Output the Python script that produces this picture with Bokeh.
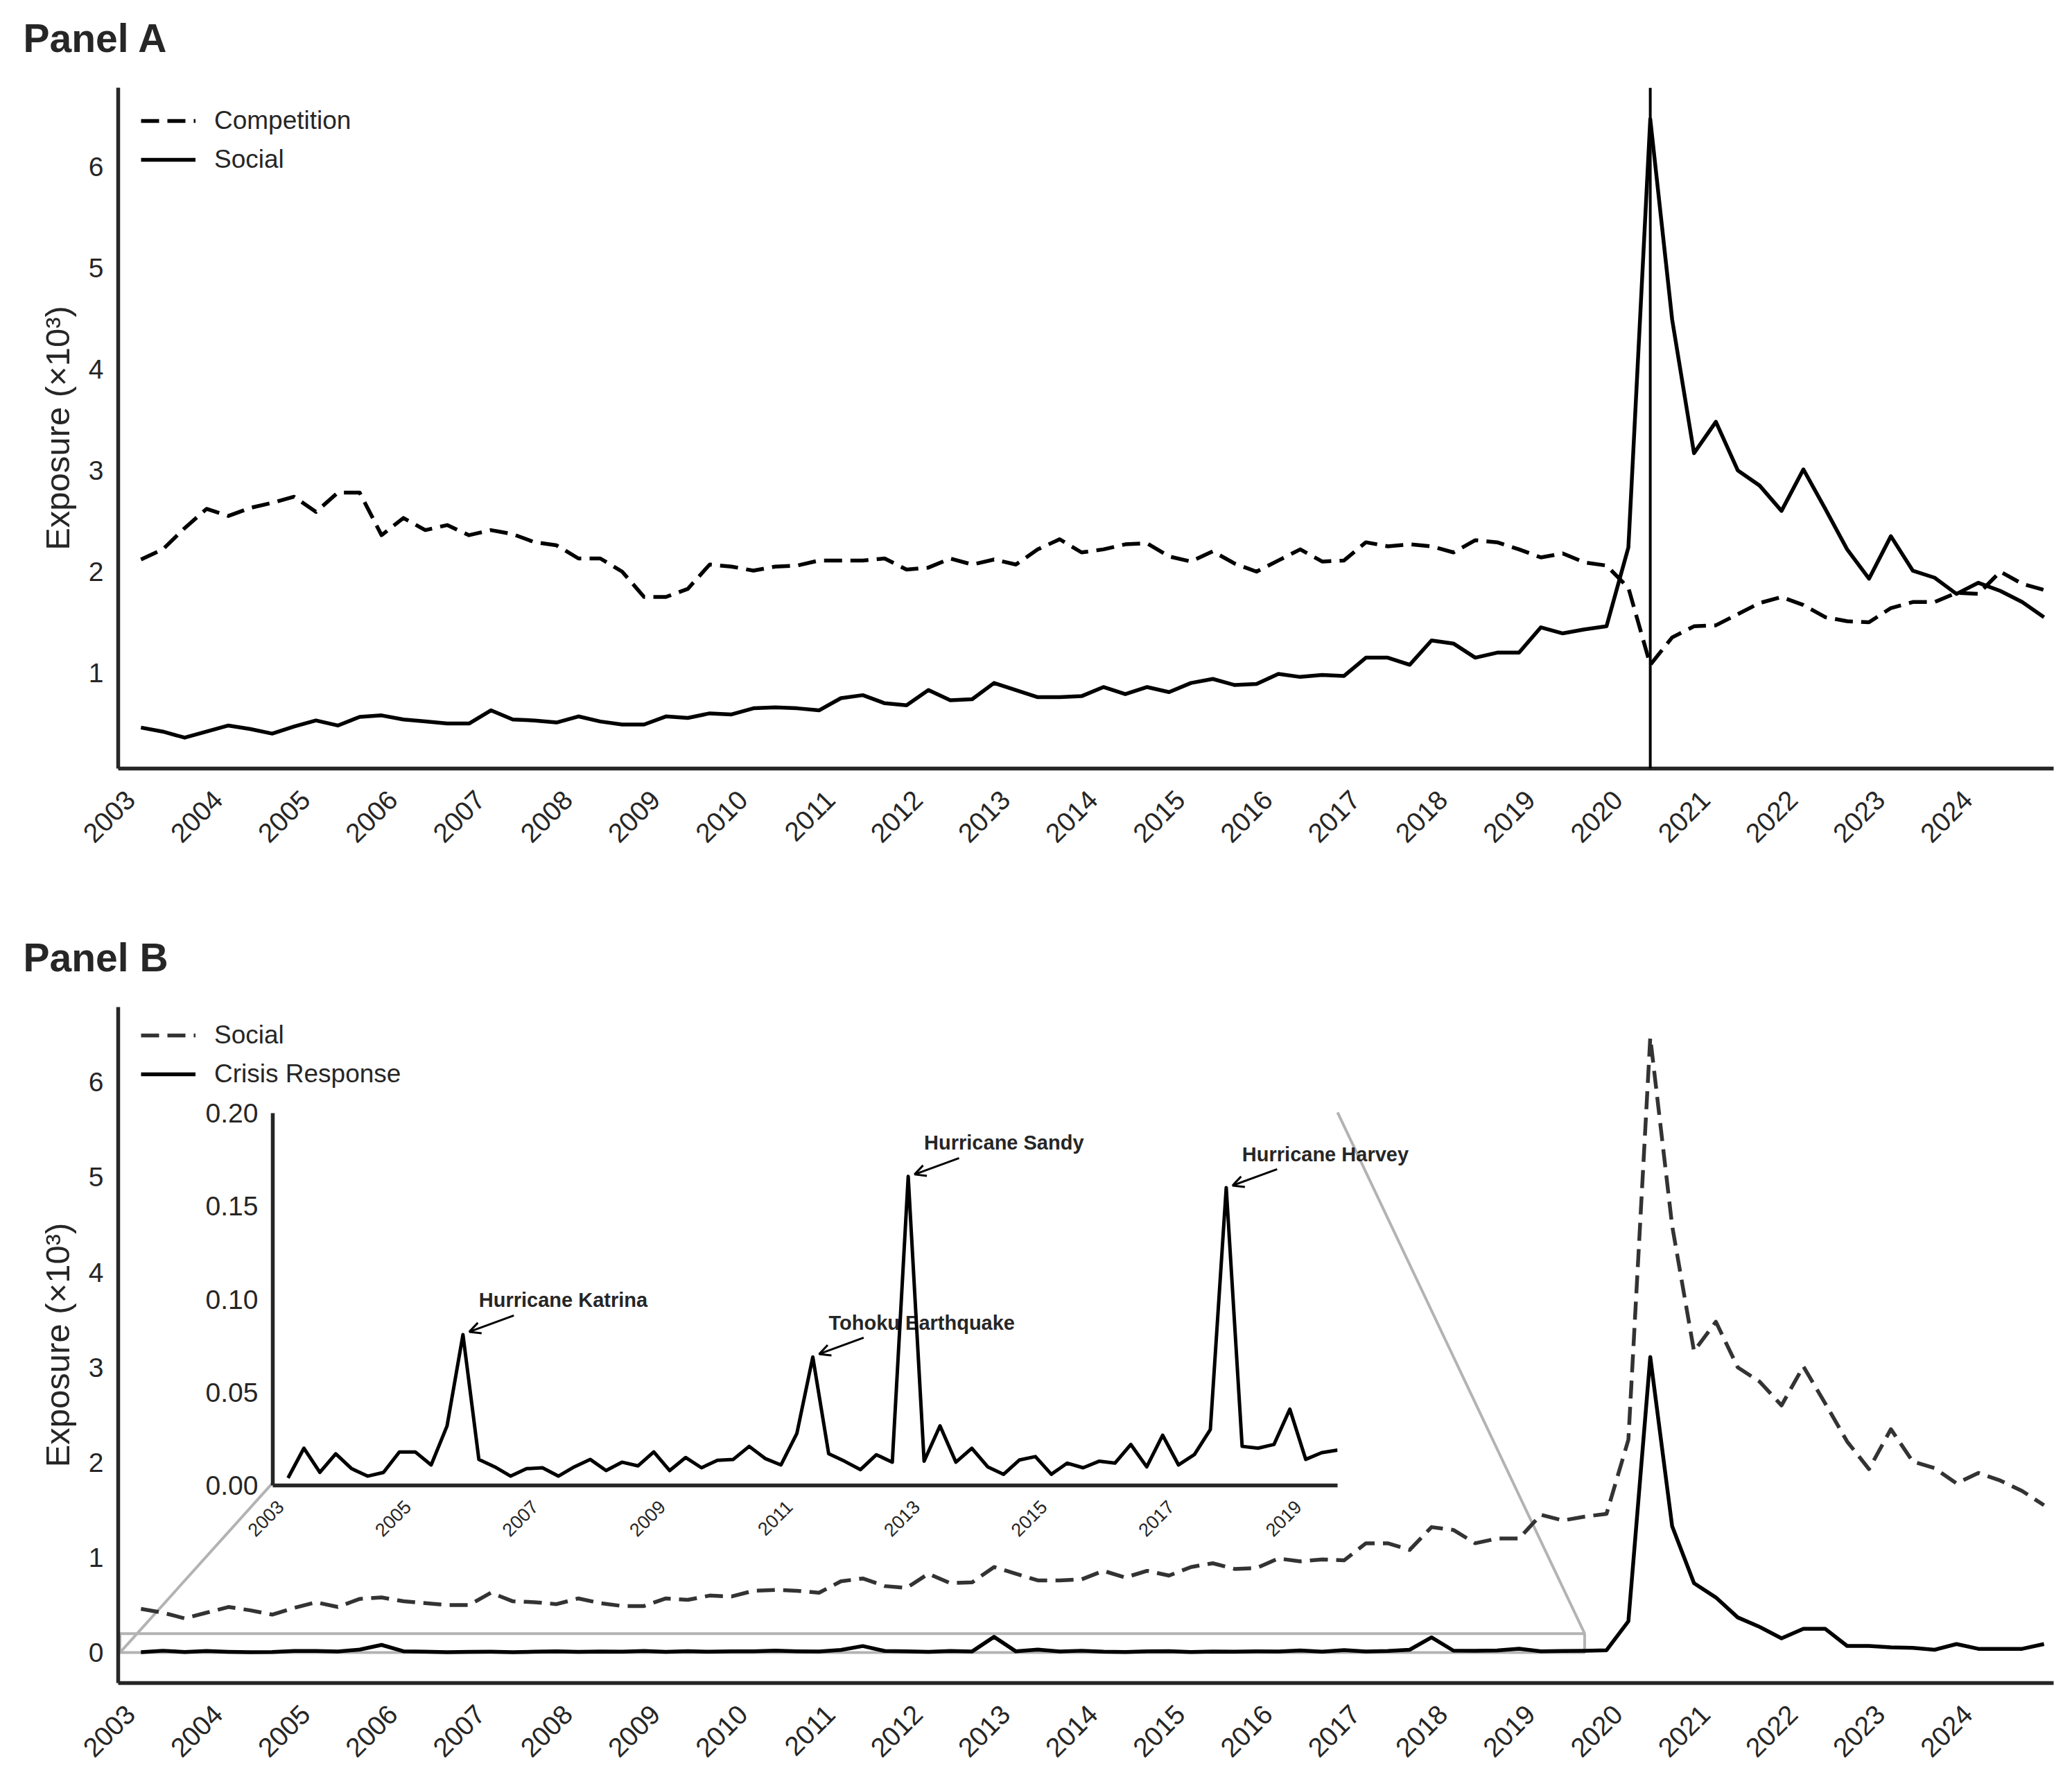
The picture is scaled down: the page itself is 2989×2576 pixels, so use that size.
import math
from bokeh.plotting import figure
from bokeh.layouts import column
from bokeh.models import (Range1d, Span, Legend, LegendItem, Arrow, OpenHead,
                          ColumnDataSource, NumeralTickFormatter)
from bokeh.core.properties import value
from bokeh.embed import file_html
from bokeh.resources import INLINE

# quarterly observations, 2003Q1 .. 2024Q4
quarters = [2003 + q / 4 for q in range(88)]

competition = [2.12, 2.22, 2.43, 2.62, 2.55, 2.63, 2.68, 2.74, 2.59, 2.78,
               2.78, 2.36, 2.53, 2.41, 2.46, 2.36, 2.41, 2.37, 2.29, 2.26,
               2.13, 2.13, 2.00, 1.75, 1.75, 1.83, 2.07, 2.05, 2.01, 2.05,
               2.06, 2.11, 2.11, 2.11, 2.13, 2.02, 2.04, 2.13, 2.07, 2.12,
               2.07, 2.22, 2.32, 2.19, 2.22, 2.27, 2.28, 2.15, 2.10, 2.20,
               2.08, 2.00, 2.11, 2.22, 2.10, 2.11, 2.29, 2.25, 2.27, 2.25,
               2.19, 2.31, 2.29, 2.22, 2.14, 2.18, 2.09, 2.06, 1.84, 1.08,
               1.35, 1.46, 1.47, 1.58, 1.69, 1.75, 1.67, 1.55, 1.51, 1.50,
               1.64, 1.70, 1.70, 1.79, 1.78, 2.00, 1.88, 1.82]

social = [0.46, 0.42, 0.36, 0.42, 0.48, 0.445, 0.40, 0.47, 0.53, 0.48,
          0.565, 0.58, 0.54, 0.52, 0.50, 0.50, 0.63, 0.54, 0.53, 0.51,
          0.57, 0.52, 0.49, 0.49, 0.57, 0.555, 0.60, 0.59, 0.65, 0.66,
          0.65, 0.63, 0.75, 0.78, 0.70, 0.68, 0.83, 0.73, 0.74, 0.90,
          0.83, 0.76, 0.76, 0.77, 0.86, 0.79, 0.86, 0.81, 0.90, 0.94,
          0.88, 0.89, 0.99, 0.96, 0.98, 0.97, 1.15, 1.15, 1.08, 1.32,
          1.29, 1.15, 1.20, 1.20, 1.45, 1.39, 1.43, 1.46, 2.24, 6.47,
          4.49, 3.17, 3.48, 3.00, 2.85, 2.60, 3.01, 2.62, 2.22, 1.93,
          2.35, 2.01, 1.94, 1.78, 1.89, 1.81, 1.70, 1.55]

crisis_response = [0.004, 0.020, 0.007, 0.017, 0.009, 0.005, 0.007, 0.018, 0.018, 0.011,
                   0.032, 0.081, 0.014, 0.010, 0.005, 0.009, 0.0095, 0.005, 0.010, 0.014,
                   0.008, 0.0125, 0.0105, 0.018, 0.008, 0.015, 0.0095, 0.0135, 0.014, 0.021,
                   0.0145, 0.011, 0.028, 0.069, 0.017, 0.013, 0.0085, 0.0165, 0.0125, 0.166,
                   0.013, 0.032, 0.0125, 0.020, 0.010, 0.006, 0.0137, 0.0155, 0.006, 0.012,
                   0.0095, 0.013, 0.012, 0.022, 0.010, 0.027, 0.011, 0.0166, 0.030, 0.160,
                   0.021, 0.020, 0.022, 0.041, 0.014, 0.0176, 0.019, 0.025, 0.33, 3.11,
                   1.33, 0.73, 0.58, 0.37, 0.27, 0.15, 0.25, 0.25, 0.07, 0.07,
                   0.055, 0.05, 0.03, 0.09, 0.04, 0.04, 0.04, 0.09]

year_ticks = list(range(2003, 2025))
inset_year_ticks = list(range(2003, 2020, 2))
ticks_a = [1, 2, 3, 4, 5, 6]
ticks_b = [0, 1, 2, 3, 4, 5, 6]
inset_ticks = [0.0, 0.05, 0.10, 0.15, 0.20]

events = ["Hurricane Katrina", "Tohoku Earthquake", "Hurricane Sandy", "Hurricane Harvey"]
event_quarter = [11, 33, 39, 59]
covid_quarter = 69

# layout (px)
PAGE_W = 2973
FONT = "Liberation Sans"
INK = "#262626"
GREY = "#b3b3b3"
NBSP = "\u00a0"
X_SPAN = (2002.74, 2024.86)
Y_SPAN_A = (0.055, 6.78)
Y_SPAN_B = (-0.32, 6.79)
INSET_X = (2002.76, 2019.5)
INSET_Y = (0.0, 0.2)
BORDER_L, BORDER_R = 170, 11
FRAME_H = 982
LIFT = 25  # panels are pulled up so the titles sit higher over the frames
A_H, A_TOP = 1300 + LIFT, 126 + LIFT
B_H, B_TOP = 1260 + LIFT, 152 + LIFT
# inset frame on the page
IN_LEFT, IN_TOP, IN_W, IN_H = 393, 1605, 1536, 538
IN_BL, IN_BR, IN_BT, IN_BB = 112, 12, 28, 92


def style_axes(p, tick_size="39px"):
    p.outline_line_color = None
    p.grid.grid_line_color = None
    for ax in p.axis:
        ax.axis_line_width = 5.5
        ax.axis_line_color = INK
        ax.major_tick_line_color = None
        ax.minor_tick_line_color = None
        ax.major_label_text_font = FONT
        ax.major_label_text_color = INK
        ax.major_label_text_font_size = tick_size
        ax.major_label_standoff = 15
    p.yaxis.major_label_text_font_size = "39px"


def make_panel(name, height, top, y_span, y_ticks):
    p = figure(width=PAGE_W, height=height,
               x_range=Range1d(*X_SPAN), y_range=Range1d(*y_span),
               min_border_left=BORDER_L, min_border_right=BORDER_R,
               min_border_top=top, min_border_bottom=height - top - FRAME_H,
               frame_align=False, margin=(-LIFT, 0, 0, 0),
               output_backend="svg", toolbar_location=None)
    style_axes(p)
    p.xaxis.ticker = year_ticks
    p.xaxis.major_label_overrides = {y: f"{y}{NBSP * 2}" for y in year_ticks}
    p.xaxis.major_label_orientation = math.pi / 4
    p.xaxis.major_label_standoff = 17
    p.yaxis.ticker = y_ticks
    p.yaxis.axis_label = "Exposure (\u00d710\u00b3)"
    p.yaxis.axis_label_text_font = FONT
    p.yaxis.axis_label_text_font_style = "normal"
    p.yaxis.axis_label_text_font_size = "49px"
    p.yaxis.axis_label_text_color = INK
    p.yaxis.axis_label_standoff = 15
    p.title.text = name
    p.title.align = "left"
    p.title.text_font = FONT
    p.title.text_font_size = "57px"
    p.title.text_font_style = "bold"
    p.title.text_color = INK
    p.title.offset = -137
    p.title.standoff = 80
    return p


def add_legend(p, items):
    leg = Legend(items=items, location=(33, FRAME_H - 26 - 100),
                 margin=0, padding=0, spacing=12,
                 glyph_width=79, glyph_height=44, label_height=44,
                 label_standoff=27, label_text_font=FONT,
                 label_text_font_size="37px", label_text_color=INK,
                 background_fill_alpha=0, border_line_color=None)
    p.add_layout(leg)


# Panel A
pa = make_panel("Panel A", A_H, A_TOP, Y_SPAN_A, ticks_a)
pa.add_layout(Span(location=quarters[covid_quarter], dimension="height",
                   line_color="black", line_width=4))
ra1 = pa.line(quarters, competition, line_color="black", line_width=5.5,
              line_dash="26 12", line_join="round")
ra2 = pa.line(quarters, social, line_color="black", line_width=5.5, line_join="round")
add_legend(pa, [LegendItem(label="Competition", renderers=[ra1]),
                LegendItem(label="Social", renderers=[ra2])])

# Panel B
pb = make_panel("Panel B", B_H, B_TOP, Y_SPAN_B, ticks_b)

# page px -> Panel B data, and inset data -> Panel B data
fx0 = BORDER_L
fy0 = (A_H - LIFT) + (B_TOP - LIFT)
fw = PAGE_W - BORDER_L - BORDER_R


def page_to_b(px, py):
    x = X_SPAN[0] + (px - fx0) / fw * (X_SPAN[1] - X_SPAN[0])
    y = Y_SPAN_B[1] - (py - fy0) / FRAME_H * (Y_SPAN_B[1] - Y_SPAN_B[0])
    return x, y


def inset_to_b(x, y):
    px = IN_LEFT + (x - INSET_X[0]) / (INSET_X[1] - INSET_X[0]) * IN_W
    py = IN_TOP + (INSET_Y[1] - y) / (INSET_Y[1] - INSET_Y[0]) * IN_H
    return page_to_b(px, py)


ll = page_to_b(IN_LEFT, IN_TOP + IN_H)
ur = page_to_b(IN_LEFT + IN_W, IN_TOP)
pb.quad(left=[INSET_X[0]], right=[INSET_X[1]], bottom=[INSET_Y[0]], top=[INSET_Y[1]],
        fill_color=None, line_color=GREY, line_width=4)
pb.segment(x0=[INSET_X[0], INSET_X[1]], y0=[INSET_Y[0], INSET_Y[1]],
           x1=[ll[0], ur[0]], y1=[ll[1], ur[1]], line_color=GREY, line_width=4)

rb1 = pb.line(quarters, social, line_color="#333333", line_width=5.5,
              line_dash="26 12", line_join="round")
rb2 = pb.line(quarters, crisis_response, line_color="black", line_width=5.5, line_join="round")
add_legend(pb, [LegendItem(label="Social", renderers=[rb1]),
                LegendItem(label="Crisis Response", renderers=[rb2])])

# event annotations of the inset (drawn on Panel B so they can run past the inset frame)
ex = [quarters[i] for i in event_quarter]
ey = [crisis_response[i] for i in event_quarter]
txt = [inset_to_b(x + 0.25, y + 0.0175) for x, y in zip(ex, ey)]
tail = [inset_to_b(x + 0.8, y + 0.0093) for x, y in zip(ex, ey)]
head = [inset_to_b(x + 0.1, y + 0.0005) for x, y in zip(ex, ey)]
ann = ColumnDataSource(dict(
    tx=[t[0] for t in txt], ty=[t[1] for t in txt], label=events,
    x0=[t[0] for t in tail], y0=[t[1] for t in tail],
    x1=[h[0] for h in head], y1=[h[1] for h in head]))
pb.text(x="tx", y="ty", text="label", source=ann, text_font=value(FONT),
        text_font_size="29px", text_font_style="bold", text_color=INK,
        text_align="left", text_baseline="alphabetic")
pb.add_layout(Arrow(end=OpenHead(size=16, line_width=3, line_color="black"),
                    x_start="x0", y_start="y0", x_end="x1", y_end="y1",
                    source=ann, line_width=3, line_color="black"))

# inset: crisis response before 2020
n_in = quarters.index(INSET_X[1]) + 1
pi = figure(width=IN_BL + IN_W + IN_BR, height=IN_BT + IN_H + IN_BB,
            x_range=Range1d(*INSET_X), y_range=Range1d(*INSET_Y),
            min_border_left=IN_BL, min_border_right=IN_BR,
            min_border_top=IN_BT, min_border_bottom=IN_BB,
            frame_align=False,
            output_backend="svg", toolbar_location=None,
            styles={"position": "absolute",
                    "left": f"{IN_LEFT - IN_BL}px",
                    "top": f"{IN_TOP - IN_BT}px"})
style_axes(pi, tick_size="27px")
pi.border_fill_alpha = 0
pi.background_fill_alpha = 0
pi.xaxis.ticker = inset_year_ticks
pi.xaxis.major_label_overrides = {y: f"{y}{NBSP * 2}" for y in inset_year_ticks}
pi.xaxis.major_label_orientation = math.pi / 4
pi.xaxis.major_label_standoff = 10
pi.yaxis.ticker = inset_ticks
pi.yaxis.formatter = NumeralTickFormatter(format="0.00")
pi.line(quarters[:n_in], crisis_response[:n_in], line_color="black",
        line_width=5, line_join="round")

layout = column(pa, pb, pi, spacing=0)
open("out.html", "w").write(file_html(layout, INLINE))
